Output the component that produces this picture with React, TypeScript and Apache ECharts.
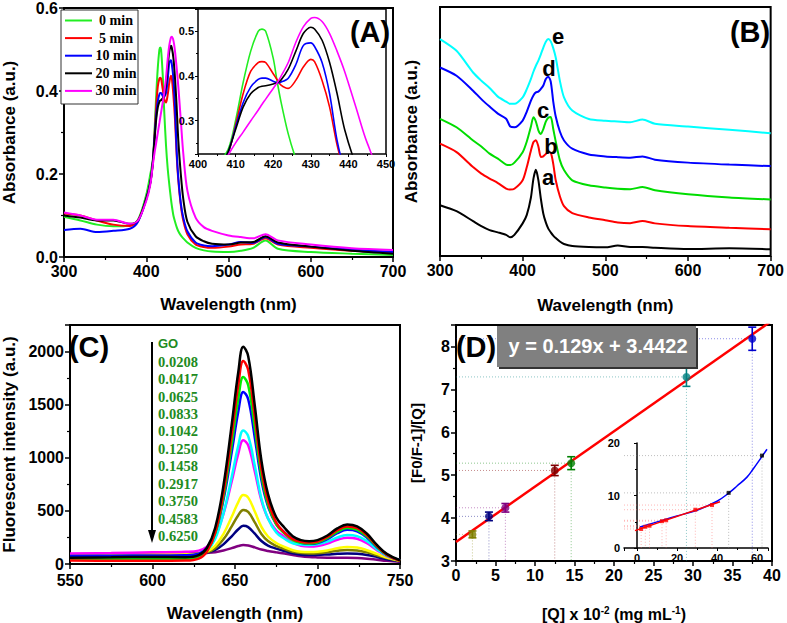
import React, { useEffect, useRef } from 'react';
import * as echarts from 'echarts';

// ---------------- Panel A : absorbance vs time ----------------
const A_WAVELENGTH = [300, 320, 340, 360, 380, 390, 400, 405, 408, 410, 412, 414, 416, 417, 418, 420, 421, 422, 424, 426, 428, 430, 431, 433, 435, 437, 439, 442, 445, 450, 460, 470, 480, 500, 515, 530, 545, 560, 600, 650, 700];
const A_0MIN = [0.097, 0.088, 0.078, 0.074, 0.076, 0.09, 0.15, 0.2, 0.235, 0.3, 0.385, 0.455, 0.5, 0.505, 0.5, 0.44, 0.39, 0.345, 0.27, 0.215, 0.175, 0.14, 0.125, 0.1, 0.085, 0.072, 0.062, 0.052, 0.045, 0.035, 0.022, 0.016, 0.013, 0.012, 0.015, 0.022, 0.04, 0.02, 0.012, 0.008, 0.005];
const A_5MIN = [0.105, 0.1, 0.088, 0.078, 0.075, 0.088, 0.14, 0.18, 0.225, 0.29, 0.36, 0.41, 0.43, 0.432, 0.43, 0.405, 0.392, 0.38, 0.372, 0.39, 0.42, 0.437, 0.432, 0.39, 0.33, 0.245, 0.185, 0.125, 0.088, 0.055, 0.03, 0.024, 0.022, 0.025, 0.03, 0.032, 0.045, 0.03, 0.022, 0.015, 0.012];
const A_10MIN = [0.065, 0.068, 0.06, 0.063, 0.068, 0.085, 0.14, 0.18, 0.228, 0.285, 0.34, 0.375, 0.392, 0.395, 0.395, 0.388, 0.385, 0.386, 0.395, 0.425, 0.468, 0.474, 0.466, 0.43, 0.36, 0.255, 0.19, 0.13, 0.095, 0.062, 0.035, 0.028, 0.026, 0.03, 0.036, 0.034, 0.048, 0.032, 0.025, 0.018, 0.012];
const A_20MIN = [0.1, 0.095, 0.088, 0.088, 0.08, 0.088, 0.14, 0.18, 0.23, 0.28, 0.33, 0.36, 0.374, 0.377, 0.378, 0.382, 0.385, 0.39, 0.415, 0.455, 0.495, 0.509, 0.505, 0.48, 0.43, 0.36, 0.28, 0.2, 0.14, 0.085, 0.05, 0.038, 0.032, 0.03, 0.035, 0.036, 0.05, 0.035, 0.025, 0.015, 0.008];
const A_30MIN = [0.107, 0.1, 0.09, 0.09, 0.08, 0.088, 0.135, 0.175, 0.222, 0.25, 0.274, 0.299, 0.323, 0.336, 0.348, 0.372, 0.384, 0.398, 0.43, 0.475, 0.51, 0.529, 0.531, 0.522, 0.495, 0.455, 0.41, 0.33, 0.25, 0.16, 0.095, 0.072, 0.063, 0.052, 0.048, 0.045, 0.055, 0.04, 0.03, 0.021, 0.017];
const A_NAMES = ['0 min', '5 min', '10 min', '20 min', '30 min'];

// ---------------- Panel B : stacked absorbance ----------------
const B_WAVELENGTH = [300, 320, 340, 350, 360, 370, 380, 385, 390, 400, 405, 410, 413, 416, 419, 422, 425, 428, 431, 434, 437, 440, 445, 450, 460, 480, 500, 515, 530, 545, 560, 600, 650, 700];
const B_A = [0.204, 0.18, 0.14, 0.12, 0.104, 0.095, 0.085, 0.075, 0.085, 0.131, 0.165, 0.235, 0.31, 0.346, 0.305, 0.23, 0.17, 0.135, 0.11, 0.095, 0.082, 0.072, 0.058, 0.048, 0.04, 0.036, 0.035, 0.042, 0.036, 0.036, 0.033, 0.028, 0.031, 0.027];
const B_B = [0.451, 0.417, 0.357, 0.331, 0.311, 0.293, 0.271, 0.267, 0.27, 0.304, 0.357, 0.424, 0.457, 0.465, 0.44, 0.398, 0.4, 0.41, 0.417, 0.415, 0.37, 0.304, 0.24, 0.2, 0.172, 0.155, 0.144, 0.135, 0.132, 0.141, 0.131, 0.12, 0.113, 0.107];
const B_C = [0.551, 0.517, 0.464, 0.44, 0.411, 0.391, 0.367, 0.365, 0.375, 0.417, 0.46, 0.52, 0.557, 0.54, 0.505, 0.49, 0.51, 0.54, 0.555, 0.558, 0.51, 0.46, 0.385, 0.345, 0.304, 0.284, 0.275, 0.27, 0.268, 0.277, 0.264, 0.248, 0.235, 0.227];
const B_D = [0.757, 0.724, 0.664, 0.63, 0.6, 0.572, 0.551, 0.52, 0.517, 0.544, 0.58, 0.624, 0.645, 0.657, 0.66, 0.671, 0.685, 0.711, 0.72, 0.7, 0.62, 0.56, 0.5, 0.464, 0.431, 0.408, 0.4, 0.397, 0.395, 0.4, 0.387, 0.375, 0.367, 0.361];
const B_E = [0.871, 0.824, 0.737, 0.704, 0.675, 0.64, 0.62, 0.611, 0.611, 0.637, 0.67, 0.711, 0.74, 0.764, 0.785, 0.81, 0.837, 0.86, 0.871, 0.862, 0.835, 0.797, 0.704, 0.637, 0.584, 0.55, 0.543, 0.54, 0.537, 0.548, 0.531, 0.52, 0.507, 0.493];
const B_LABELS = ['a', 'b', 'c', 'd', 'e'];

// ---------------- Panel C : fluorescence quenching ----------------
const C_WAVELENGTH = [550, 575, 600, 620, 628, 633, 638, 643, 648, 652, 655, 658, 662, 666, 670, 675, 680, 685, 690, 695, 700, 706, 712, 718, 724, 730, 736, 742, 750];
const C_GO = [60, 63, 66, 64, 84, 153, 341, 738, 1312, 1807, 2045, 1956, 1490, 975, 658, 440, 341, 262, 225, 215, 225, 268, 335, 372, 355, 285, 180, 95, 35];
const C_0208 = [32, 30, 30, 32, 51, 117, 295, 671, 1216, 1686, 1911, 1826, 1385, 896, 596, 389, 295, 235, 210, 202, 212, 255, 318, 353, 337, 270, 170, 88, 30];
const C_0417 = [45, 45, 47, 48, 65, 125, 288, 630, 1127, 1555, 1760, 1683, 1281, 836, 562, 373, 288, 225, 200, 193, 203, 244, 303, 338, 322, 258, 163, 85, 32];
const C_0625 = [75, 78, 80, 82, 97, 151, 297, 605, 1051, 1435, 1620, 1551, 1189, 790, 543, 374, 297, 236, 200, 190, 198, 235, 290, 322, 308, 248, 158, 85, 35];
const C_0833 = [62, 66, 70, 72, 84, 125, 238, 475, 819, 1115, 1257, 1204, 925, 617, 428, 297, 238, 195, 183, 178, 185, 210, 250, 272, 262, 215, 140, 78, 35];
const C_1042 = [98, 103, 110, 115, 126, 162, 262, 472, 777, 1039, 1165, 1118, 871, 598, 430, 315, 255, 200, 172, 165, 170, 192, 228, 248, 238, 195, 130, 75, 35];
const C_1250 = [80, 85, 90, 92, 98, 117, 170, 282, 444, 583, 650, 625, 494, 349, 259, 198, 160, 130, 115, 112, 115, 128, 148, 160, 155, 130, 95, 60, 30];
const C_1458 = [78, 82, 87, 90, 94, 109, 149, 232, 354, 459, 509, 490, 392, 283, 216, 170, 140, 115, 104, 100, 102, 112, 125, 132, 128, 110, 82, 55, 28];
const C_2917 = [85, 88, 92, 95, 98, 107, 132, 185, 261, 327, 359, 347, 285, 216, 174, 145, 122, 100, 88, 84, 85, 90, 96, 100, 96, 85, 66, 45, 25];
const C_3750 = [92, 95, 98, 100, 101, 104, 111, 127, 149, 169, 178, 174, 156, 136, 123, 110, 98, 85, 72, 65, 62, 60, 60, 60, 57, 50, 40, 30, 20];
const C_LIST = ['GO', '0.0208', '0.0417', '0.0625', '0.0833', '0.1042', '0.1250', '0.1458', '0.2917', '0.3750', '0.4583', '0.6250'];

// ---------------- Panel D : Stern-Volmer type plot ----------------
const D_Q = [2.08, 4.17, 6.25, 12.5, 14.58, 29.17, 37.5];
const D_RATIO = [3.62, 4.04, 4.24, 5.11, 5.28, 7.29, 8.18];
const D_ERR = [0.08, 0.1, 0.1, 0.12, 0.15, 0.22, 0.27];
const FIT_SLOPE = 0.129;
const FIT_INTERCEPT = 3.4422;
const INSET_EXTRA_Q = [45.83, 62.5];
const INSET_EXTRA_RATIO = [10.5, 17.6];
const INSET_CURVE_Q = [1.5, 13, 20, 30, 40, 46, 50, 55, 58, 62.8, 65];
const INSET_CURVE_RATIO = [4.0, 5.3, 6.1, 7.2, 8.9, 10.5, 11.8, 13.5, 15.0, 17.6, 18.8];

// ---------------- styles ----------------
const SANS = '"Liberation Sans", Arial, sans-serif';
const SERIF = '"Liberation Serif", "Times New Roman", serif';
const A_COLORS = ['#22ee22', '#ff0000', '#0000ff', '#000000', '#ff00ff'];
const B_COLORS = ['#000000', '#ff0000', '#00dd00', '#0000ff', '#00ffff'];
const C_COLORS = ['#000000', '#ff0000', '#00ee00', '#0000ff', '#00ffff', '#ff00ff', '#ffff00', '#808000', '#000080', '#800080'];
const D_COLORS = ['#808000', '#000080', '#800080', '#800000', '#008000', '#008080', '#0000cc'];
const GREEN_TEXT = '#228B22';

const pairs = (xs: number[], ys: number[]) => xs.map((x, i) => [x, ys[i]]);

function baseAxis(gridIndex: number, extra: any) {
  return {
    type: 'value',
    gridIndex,
    axisLine: { show: false },
    axisTick: { show: true, length: 5, lineStyle: { color: '#000', width: 1.5 } },
    minorTick: { show: true, splitNumber: 2, length: 3, lineStyle: { color: '#000', width: 1.2 } },
    splitLine: { show: false },
    axisLabel: { fontFamily: SANS, fontWeight: 'bold', fontSize: 16, color: '#000', margin: 6 },
    nameTextStyle: { fontFamily: SANS, fontWeight: 'bold', fontSize: 17, color: '#000' },
    nameLocation: 'middle',
    ...extra,
  };
}

function smallAxis(gridIndex: number, extra: any) {
  return {
    type: 'value',
    gridIndex,
    axisLine: { show: false },
    axisTick: { show: true, length: 3, lineStyle: { color: '#000', width: 1 } },
    minorTick: { show: true, splitNumber: 2, length: 2, lineStyle: { color: '#000', width: 1 } },
    splitLine: { show: false },
    axisLabel: { fontFamily: SANS, fontWeight: 'bold', fontSize: 11, color: '#000', margin: 4 },
    ...extra,
  };
}

function buildOption() {
  const aSeries = [A_0MIN, A_5MIN, A_10MIN, A_20MIN, A_30MIN];
  const bSeries = [B_A, B_B, B_C, B_D, B_E];
  const cSeries = [C_GO, C_0208, C_0417, C_0625, C_0833, C_1042, C_1250, C_1458, C_2917, C_3750];

  const series: any[] = [];
  aSeries.forEach((s, i) => {
    series.push({
      type: 'line', name: A_NAMES[i], xAxisIndex: 0, yAxisIndex: 0,
      data: pairs(A_WAVELENGTH, s), showSymbol: false, symbol: 'none', smooth: 0.3,
      lineStyle: { color: A_COLORS[i], width: 2 },
    });
  });
  aSeries.forEach((s, i) => {
    series.push({
      type: 'line', name: A_NAMES[i] + ' inset', xAxisIndex: 1, yAxisIndex: 1,
      data: pairs(A_WAVELENGTH, s), showSymbol: false, symbol: 'none', smooth: 0.3, clip: true,
      lineStyle: { color: A_COLORS[i], width: 1.6 }, z: 5,
    });
  });
  bSeries.forEach((s, i) => {
    series.push({
      type: 'line', name: B_LABELS[i], xAxisIndex: 2, yAxisIndex: 2,
      data: pairs(B_WAVELENGTH, s), showSymbol: false, symbol: 'none', smooth: 0.25,
      lineStyle: { color: B_COLORS[i], width: 2 },
    });
  });
  cSeries.forEach((s, i) => {
    series.push({
      type: 'line', name: C_LIST[i], xAxisIndex: 3, yAxisIndex: 3,
      data: pairs(C_WAVELENGTH, s), showSymbol: false, symbol: 'none', smooth: 0.4,
      lineStyle: { color: C_COLORS[i], width: 2.5 }, z: 2 + (10 - i) * 0.01,
    });
  });

  // Panel D drop lines
  series.push({
    type: 'custom', xAxisIndex: 4, yAxisIndex: 4, z: 1,
    data: pairs(D_Q, D_RATIO),
    renderItem: (params: any, api: any) => {
      const x = api.value(0), y = api.value(1);
      const p = api.coord([x, y]);
      const b = api.coord([x, 3]);
      const l = api.coord([0, y]);
      const st = { stroke: D_COLORS[params.dataIndex], lineWidth: 1, lineDash: [1, 2], opacity: 0.45 };
      return {
        type: 'group', children: [
          { type: 'line', shape: { x1: p[0], y1: p[1], x2: b[0], y2: b[1] }, style: st },
          { type: 'line', shape: { x1: l[0], y1: l[1], x2: p[0], y2: p[1] }, style: st },
        ],
      };
    },
  });
  series.push({
    type: 'line', name: 'fit', xAxisIndex: 4, yAxisIndex: 4, showSymbol: false, symbol: 'none', clip: true,
    data: [[0, FIT_INTERCEPT], [40, FIT_SLOPE * 40 + FIT_INTERCEPT]],
    lineStyle: { color: '#ff0000', width: 2.5 }, z: 3,
  });
  series.push({
    type: 'custom', xAxisIndex: 4, yAxisIndex: 4, z: 4,
    data: D_Q.map((q, i) => [q, D_RATIO[i], D_ERR[i]]),
    renderItem: (params: any, api: any) => {
      const x = api.value(0), y = api.value(1), e = api.value(2);
      const t = api.coord([x, y + e]);
      const b = api.coord([x, y - e]);
      const st = { stroke: D_COLORS[params.dataIndex], lineWidth: 1.6 };
      return {
        type: 'group', children: [
          { type: 'line', shape: { x1: t[0], y1: t[1], x2: b[0], y2: b[1] }, style: st },
          { type: 'line', shape: { x1: t[0] - 4, y1: t[1], x2: t[0] + 4, y2: t[1] }, style: st },
          { type: 'line', shape: { x1: b[0] - 4, y1: b[1], x2: b[0] + 4, y2: b[1] }, style: st },
        ],
      };
    },
  });
  series.push({
    type: 'scatter', xAxisIndex: 4, yAxisIndex: 4, z: 5, symbol: 'circle', symbolSize: 8,
    data: D_Q.map((q, i) => ({ value: [q, D_RATIO[i]], itemStyle: { color: D_COLORS[i] } })),
  });

  // Panel D inset
  const insetPts = [...pairs(D_Q, D_RATIO), ...pairs(INSET_EXTRA_Q, INSET_EXTRA_RATIO)];
  series.push({
    type: 'custom', xAxisIndex: 5, yAxisIndex: 5, z: 1,
    data: insetPts,
    renderItem: (params: any, api: any) => {
      const x = api.value(0), y = api.value(1);
      const p = api.coord([x, y]);
      const b = api.coord([x, 0]);
      const l = api.coord([-6.5, y]);
      const c = params.dataIndex < D_Q.length ? '#ff6666' : '#777777';
      const st = { stroke: c, lineWidth: 0.8, lineDash: [1, 2], opacity: 0.6 };
      return {
        type: 'group', children: [
          { type: 'line', shape: { x1: p[0], y1: p[1], x2: b[0], y2: b[1] }, style: st },
          { type: 'line', shape: { x1: l[0], y1: l[1], x2: p[0], y2: p[1] }, style: st },
        ],
      };
    },
  });
  series.push({
    type: 'line', xAxisIndex: 5, yAxisIndex: 5, showSymbol: false, symbol: 'none', smooth: 0.4,
    data: pairs(INSET_CURVE_Q, INSET_CURVE_RATIO), lineStyle: { color: '#0000ff', width: 1.5 }, z: 3,
  });
  series.push({
    type: 'line', xAxisIndex: 5, yAxisIndex: 5, showSymbol: false, symbol: 'none',
    data: [[-1, FIT_SLOPE * -1 + FIT_INTERCEPT], [41.5, FIT_SLOPE * 41.5 + FIT_INTERCEPT]],
    lineStyle: { color: '#ff0000', width: 1.5 }, z: 4,
  });
  series.push({
    type: 'scatter', xAxisIndex: 5, yAxisIndex: 5, symbol: 'rect', symbolSize: 4, z: 5,
    data: pairs(D_Q, D_RATIO), itemStyle: { color: '#ff0000' },
  });
  series.push({
    type: 'scatter', xAxisIndex: 5, yAxisIndex: 5, symbol: 'rect', symbolSize: 4, z: 5,
    data: pairs(INSET_EXTRA_Q, INSET_EXTRA_RATIO), itemStyle: { color: '#000000' },
  });

  const frame = { show: true, borderColor: '#000', borderWidth: 2, backgroundColor: 'rgba(0,0,0,0)' };

  const graphic: any[] = [];
  // Panel letters
  const letter = (t: string, x: number, y: number) => ({
    type: 'text', x, y, z: 20,
    style: { text: t, fontFamily: SANS, fontWeight: 'bold', fontSize: 29, fill: '#000', textAlign: 'center', textVerticalAlign: 'middle' },
  });
  graphic.push(letter('(A)', 370, 32), letter('(B)', 750, 32), letter('(C)', 89, 347), letter('(D)', 476, 347));

  // Legend panel A
  graphic.push({ type: 'rect', shape: { x: 61, y: 10, width: 77, height: 94 }, style: { fill: '#fff', stroke: '#333', lineWidth: 1 }, z: 10 });
  A_NAMES.forEach((n, i) => {
    const y = 20.5 + i * 17.6;
    graphic.push({ type: 'line', shape: { x1: 65, y1: y, x2: 92, y2: y }, style: { stroke: A_COLORS[i], lineWidth: 2 }, z: 11 });
    graphic.push({
      type: 'text', x: 116, y, z: 11,
      style: { text: n, fontFamily: SERIF, fontWeight: 'bold', fontSize: 14, fill: '#000', textAlign: 'center', textVerticalAlign: 'middle' },
    });
  });

  // Curve labels panel B
  const bPos = [[548, 177], [551, 146], [543, 110], [549, 68], [558, 36]];
  B_LABELS.forEach((t, i) => {
    graphic.push({
      type: 'text', x: bPos[i][0], y: bPos[i][1], z: 12,
      style: { text: t, fontFamily: SANS, fontWeight: 'bold', fontSize: 22, fill: '#000', textAlign: 'center', textVerticalAlign: 'middle' },
    });
  });

  // Concentration list panel C
  graphic.push({ type: 'line', shape: { x1: 152, y1: 342, x2: 152, y2: 532 }, style: { stroke: '#000', lineWidth: 2 }, z: 12 });
  graphic.push({ type: 'polygon', shape: { points: [[148, 530], [156, 530], [152, 543]] }, style: { fill: '#000' }, z: 12 });
  C_LIST.forEach((t, i) => {
    const y = i === 0 ? 343 : 361.7 + (i - 1) * 17.43;
    graphic.push({
      type: 'text', x: 158, y, z: 12,
      style: {
        text: t, fontFamily: i === 0 ? SANS : SERIF, fontWeight: 'bold', fontSize: i === 0 ? 13 : 14.5,
        fill: GREEN_TEXT, textAlign: 'left', textVerticalAlign: 'middle',
      },
    });
  });

  // Equation box panel D
  graphic.push({ type: 'rect', shape: { x: 499, y: 328, width: 199, height: 41 }, style: { fill: '#333' }, z: 13 });
  graphic.push({ type: 'rect', shape: { x: 497, y: 326, width: 199, height: 41 }, style: { fill: '#808080' }, z: 14 });
  graphic.push({
    type: 'text', x: 598, y: 346, z: 15,
    style: { text: 'y = 0.' + String(FIT_SLOPE).split('.')[1] + 'x + ' + FIT_INTERCEPT, fontFamily: SANS, fontWeight: 'bold', fontSize: 20, fill: '#fff', textAlign: 'center', textVerticalAlign: 'middle' },
  });

  return {
    animation: false,
    backgroundColor: '#fff',
    grid: [
      { left: 60, top: 7, width: 333, height: 250, ...frame },
      { left: 198, top: 9, width: 188, height: 145, show: true, borderColor: '#000', borderWidth: 1.5, backgroundColor: '#fff', z: 4 },
      { left: 440, top: 7, width: 333, height: 249, ...frame },
      { left: 67, top: 325, width: 333, height: 245, ...frame },
      { left: 456, top: 325, width: 316, height: 237, ...frame },
      { left: 624, top: 443, width: 144, height: 105, show: false },
    ],
    xAxis: [
      baseAxis(0, { min: 300, max: 700, interval: 100, name: 'Wavelength (nm)', nameGap: 39 }),
      smallAxis(1, { min: 400, max: 450, interval: 10, z: 5 }),
      baseAxis(2, { min: 300, max: 700, interval: 100, name: 'Wavelength (nm)', nameGap: 41 }),
      baseAxis(3, {
        min: 550, max: 750, interval: 50, name: 'Wavelength (nm)', nameGap: 41,
        axisLabel: { fontFamily: SANS, fontWeight: 'bold', fontSize: 16, color: '#000', margin: 8 },
      }),
      baseAxis(4, {
        min: 0, max: 40, interval: 5, nameGap: 44,
        name: '[Q] x 10{sup|-2} (mg mL{sup|-1})',
        nameTextStyle: {
          fontFamily: SANS, fontWeight: 'bold', fontSize: 16, color: '#000',
          rich: { sup: { fontFamily: SANS, fontWeight: 'bold', fontSize: 10, color: '#000', verticalAlign: 'top', padding: [0, 0, 8, 0] } },
        },
      }),
      smallAxis(5, {
        min: -6.5, max: 65.5, splitNumber: 4,
        axisLine: { show: true, lineStyle: { color: '#000', width: 1.5 } },
        axisLabel: { fontFamily: SANS, fontWeight: 'bold', fontSize: 11, color: '#000', margin: 4, formatter: (v: number) => (v % 20 === 0 ? String(v) : '') },
      }),
    ],
    yAxis: [
      baseAxis(0, { min: 0, max: 0.6, interval: 0.2, name: 'Absorbance (a.u.)', nameGap: 46, nameRotate: 90, axisLabel: { fontFamily: SANS, fontWeight: 'bold', fontSize: 16, color: '#000', margin: 6, formatter: (v: number) => v.toFixed(1) } }),
      smallAxis(1, { min: 0.225, max: 0.55, splitNumber: 3, z: 5, axisLabel: { fontFamily: SANS, fontWeight: 'bold', fontSize: 11, color: '#000', margin: 4, showMinLabel: false, showMaxLabel: false, formatter: (v: number) => v.toFixed(1) } }),
      baseAxis(2, { min: 0, max: 1, name: 'Absorbance (a.u.)', nameGap: 20, nameRotate: 90, axisTick: { show: false }, minorTick: { show: false }, axisLabel: { show: false } }),
      baseAxis(3, { min: 0, max: 2250, interval: 500, name: 'Fluorescent intensity (a.u.)', nameGap: 52, nameRotate: 90, axisLabel: { fontFamily: SANS, fontWeight: 'bold', fontSize: 16, color: '#000', margin: 6, showMaxLabel: false, formatter: (v: number) => String(v) } }),
      baseAxis(4, { min: 3, max: 8.5, interval: 1, name: '[F0/F-1]/[Q]', nameGap: 32, nameRotate: 90, nameTextStyle: { fontFamily: SANS, fontWeight: 'bold', fontSize: 15, color: '#000' }, axisLabel: { fontFamily: SANS, fontWeight: 'bold', fontSize: 16, color: '#000', margin: 6, showMaxLabel: false } }),
      smallAxis(5, { min: 0, max: 20, interval: 10, axisLine: { show: true, lineStyle: { color: '#000', width: 1.5 } } }),
    ],
    graphic,
    series,
  };
}

export default function App() {
  const ref = useRef<HTMLDivElement>(null);
  useEffect(() => {
    if (!ref.current) return;
    const chart = echarts.init(ref.current, null, { renderer: 'svg' });
    chart.setOption(buildOption() as any);
    return () => chart.dispose();
  }, []);
  return <div ref={ref} style={{ position: 'fixed', left: 0, top: 0, width: 787, height: 623, background: '#fff' }} />;
}
